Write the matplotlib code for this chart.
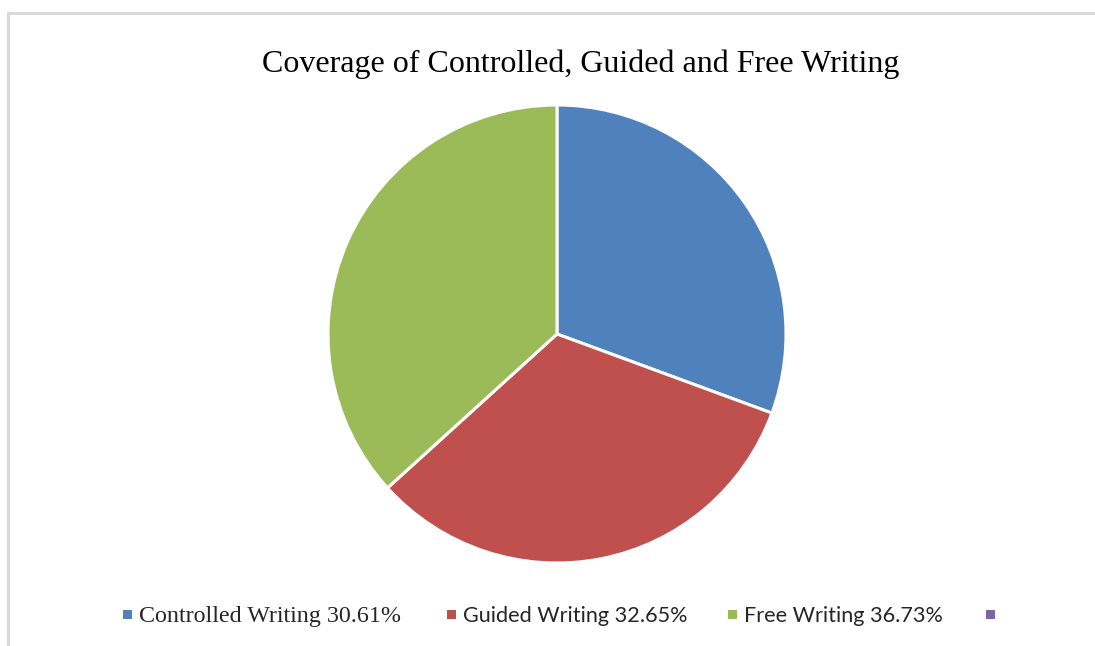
import matplotlib
matplotlib.use("Agg")
import matplotlib.pyplot as plt
from matplotlib.patches import Rectangle

# Data
categories = ["Controlled Writing", "Guided Writing", "Free Writing"]
shares = [30.61, 32.65, 36.73]
colors = ["#4F81BD", "#C0504D", "#9BBB59"]
extra_color = "#8064A2"
title = "Coverage of Controlled, Guided and Free Writing"

W, H = 1095, 646
fig = plt.figure(figsize=(W / 100, H / 100), dpi=100)
fig.patch.set_facecolor("white")

# Light gray chart frame
frame = Rectangle((8 / W, -0.05), 1.2, (H - 13) / H + 0.05, transform=fig.transFigure,
                  fill=False, edgecolor="#D9D9D9", linewidth=2.2, zorder=0)
fig.patches.append(frame)

# Pie
cx, cy, r = 557, 334, 229
ax = fig.add_axes([(cx - r) / W, (H - cy - r) / H, 2 * r / W, 2 * r / H])
ax.pie(shares, colors=colors, startangle=90, counterclock=False, radius=1.0,
       wedgeprops=dict(edgecolor="white", linewidth=2.2))
ax.set_xlim(-1.0, 1.0)
ax.set_ylim(-1.0, 1.0)
ax.set_aspect("equal")
ax.axis("off")

# Title
fig.text(581 / W, 1 - 72 / H, title, ha="center", va="baseline",
         fontsize=23, family="Liberation Serif", color="#000000")

# Legend row
baseline_y = 1 - 622 / H
marker_y = 1 - 614 / H
marker_x = [127, 451, 732, 990]
label_fonts = ["Liberation Serif", "Lato", "Lato"]
label_sizes = [17.3, 15.6, 15.6]
labels = [f"{c} {v:.2f}%" for c, v in zip(categories, shares)]
sq = 9
for i, mx in enumerate(marker_x):
    col = colors[i] if i < len(colors) else extra_color
    fig.patches.append(Rectangle(((mx - sq / 2) / W, marker_y - (sq / 2) / H), sq / W, sq / H,
                                 transform=fig.transFigure, facecolor=col, edgecolor="none"))
    if i < len(labels):
        fig.text((mx + 12) / W, baseline_y, labels[i], ha="left", va="baseline",
                 fontsize=label_sizes[i], family=label_fonts[i], color="#262626")

fig.savefig("out.png", dpi=100, facecolor="white")
